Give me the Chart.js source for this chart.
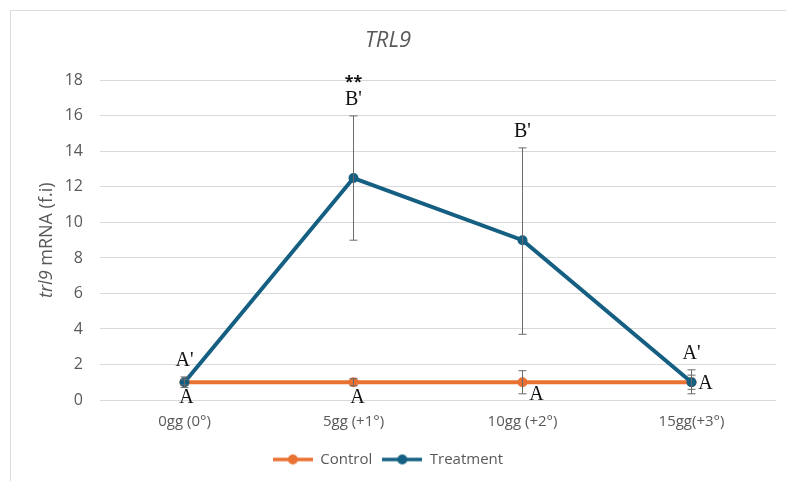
<!DOCTYPE html>
<html>
<head>
<meta charset="utf-8">
<script src="https://cdn.jsdelivr.net/npm/chart.js@4"></script>
<style>
  body { margin: 0; background: #fff; }
  #wrap { position: relative; width: 786px; height: 481px; overflow: hidden; }
  #frame { position: absolute; left: 10px; top: 10px; width: 900px; height: 600px;
           border-top: 1px solid #dcdcdc; border-left: 1px solid #dcdcdc; }
  canvas { position: absolute; left: 0; top: 0; }
</style>
</head>
<body>
<div id="wrap">
  <div id="frame"></div>
  <canvas id="trlChart" width="786" height="481"></canvas>
</div>
<script>
// data
const categories = ['0gg (0°)', '5gg (+1°)', '10gg (+2°)', '15gg(+3°)'];
const controlMean = [1, 1, 1, 1];
const controlLow = [0.85, 0.8, 0.35, 0.6];
const controlHigh = [1.15, 1.2, 1.65, 1.4];
const treatmentMean = [1, 12.5, 9, 1];
const treatmentLow = [0.7, 9, 3.7, 0.35];
const treatmentHigh = [1.3, 16, 14.2, 1.7];
const treatmentLetters = ["A'", "B'", "B'", "A'"];
const treatmentStars = ['', '**', '', ''];
const controlLetters = ['A', 'A', 'A', 'A'];
const yTicks = [0, 2, 4, 6, 8, 10, 12, 14, 16, 18];

const ORANGE = '#E97132';
const BLUE = '#156082';
const GREY = '#595959';
const SANS = "'Open Sans', 'Liberation Sans', sans-serif";
const SERIF = "'Liberation Serif', 'DejaVu Serif', serif";

// legend marker: line with a dot in the middle
function legendMarker(color) {
  const c = document.createElement('canvas');
  c.width = 40; c.height = 12;
  const g = c.getContext('2d');
  g.strokeStyle = color; g.lineWidth = 3.5;
  g.beginPath(); g.moveTo(0, 6); g.lineTo(40, 6); g.stroke();
  g.fillStyle = color;
  g.beginPath(); g.arc(20, 6, 5, 0, Math.PI * 2); g.fill();
  return c;
}

// error bars + significance letters
const extras = {
  id: 'extras',
  afterDatasetsDraw(chart) {
    const ctx = chart.ctx;
    const x = chart.scales.x, y = chart.scales.y;
    ctx.save();
    ctx.strokeStyle = '#6b6b6b';
    ctx.lineWidth = 1;
    const bars = [[controlLow, controlHigh], [treatmentLow, treatmentHigh]];
    bars.forEach(([lo, hi]) => {
      categories.forEach((c, i) => {
        const px = x.getPixelForValue(i);
        const y1 = y.getPixelForValue(lo[i]), y2 = y.getPixelForValue(hi[i]);
        ctx.beginPath();
        ctx.moveTo(px, y1); ctx.lineTo(px, y2);
        ctx.moveTo(px - 4, y1); ctx.lineTo(px + 4, y1);
        ctx.moveTo(px - 4, y2); ctx.lineTo(px + 4, y2);
        ctx.stroke();
      });
    });

    ctx.fillStyle = '#111';
    ctx.font = '20px ' + SERIF;
    ctx.textAlign = 'center';
    ctx.textBaseline = 'bottom';
    categories.forEach((c, i) => {
      const px = x.getPixelForValue(i);
      const top = y.getPixelForValue(treatmentHigh[i]);
      ctx.fillText(treatmentLetters[i], px, top - 6);
      if (treatmentStars[i]) {
        ctx.font = 'bold 16px ' + SANS;
        ctx.fillText(treatmentStars[i], px, top - 25);
        ctx.font = '20px ' + SERIF;
      }
    });

    // control letters sit under the point, the last two are nudged right
    const shift = [[2, 0], [4, 0], [14, -3], [14, -14]];
    ctx.textBaseline = 'middle';
    categories.forEach((c, i) => {
      const px = x.getPixelForValue(i) + shift[i][0];
      const py = y.getPixelForValue(0) - 2 + shift[i][1];
      ctx.fillText(controlLetters[i], px, py);
    });
    ctx.restore();
  },
  afterDraw(chart) {
    // y title with the gene name in italics
    const ctx = chart.ctx;
    const a = chart.chartArea;
    ctx.save();
    ctx.translate(47, (a.top + a.bottom) / 2);
    ctx.rotate(-Math.PI / 2);
    ctx.fillStyle = GREY;
    ctx.textBaseline = 'middle';
    const p1 = 'trl9', p2 = ' mRNA (f.i)';
    ctx.font = 'italic 18px ' + SANS;
    const w1 = ctx.measureText(p1).width;
    ctx.font = '18px ' + SANS;
    const w2 = ctx.measureText(p2).width;
    const start = -(w1 + w2) / 2;
    ctx.font = 'italic 18px ' + SANS;
    ctx.fillText(p1, start, 0);
    ctx.font = '18px ' + SANS;
    ctx.fillText(p2, start + w1, 0);
    ctx.restore();
  }
};

new Chart(document.getElementById('trlChart'), {
  type: 'line',
  data: {
    labels: categories,
    datasets: [{
      label: 'Control',
      data: controlMean,
      borderColor: ORANGE,
      backgroundColor: ORANGE,
      borderWidth: 4,
      pointRadius: 5,
      pointBorderWidth: 0,
      order: 2
    }, {
      label: 'Treatment',
      data: treatmentMean,
      borderColor: BLUE,
      backgroundColor: BLUE,
      borderWidth: 4,
      pointRadius: 5,
      pointBorderWidth: 0,
      order: 1
    }]
  },
  options: {
    responsive: false,
    animation: false,
    layout: { padding: { left: 0, right: 10, top: 0, bottom: 4 } },
    plugins: {
      title: {
        display: true,
        text: 'TRL9',
        color: GREY,
        font: { family: SANS, size: 22, style: 'italic', weight: 'normal' },
        padding: { top: 28, bottom: 26 }
      },
      legend: {
        position: 'bottom',
        labels: {
          color: GREY,
          font: { family: SANS, size: 15 },
          usePointStyle: true,
          pointStyleWidth: 40,
          padding: 10,
          generateLabels(chart) {
            return chart.data.datasets.map((ds, i) => ({
              text: ds.label,
              fontColor: GREY,
              pointStyle: legendMarker(ds.borderColor),
              datasetIndex: i,
              lineWidth: 0,
              hidden: false
            }));
          }
        }
      },
      tooltip: { enabled: false }
    },
    scales: {
      x: {
        offset: true,
        grid: { display: false, drawTicks: false },
        border: { display: false },
        ticks: { color: GREY, font: { family: SANS, size: 15 }, padding: 13 },
        afterFit(s) { s.height = 42; }
      },
      y: {
        min: 0,
        max: 18,
        afterBuildTicks(s) { s.ticks = yTicks.map(v => ({ value: v })); },
        grid: { color: '#d9d9d9', drawTicks: false },
        border: { display: false },
        ticks: { color: GREY, font: { family: SANS, size: 16 }, padding: 17 },
        afterFit(s) { s.width = 100; }
      }
    }
  },
  plugins: [extras]
});
</script>
</body>
</html>
